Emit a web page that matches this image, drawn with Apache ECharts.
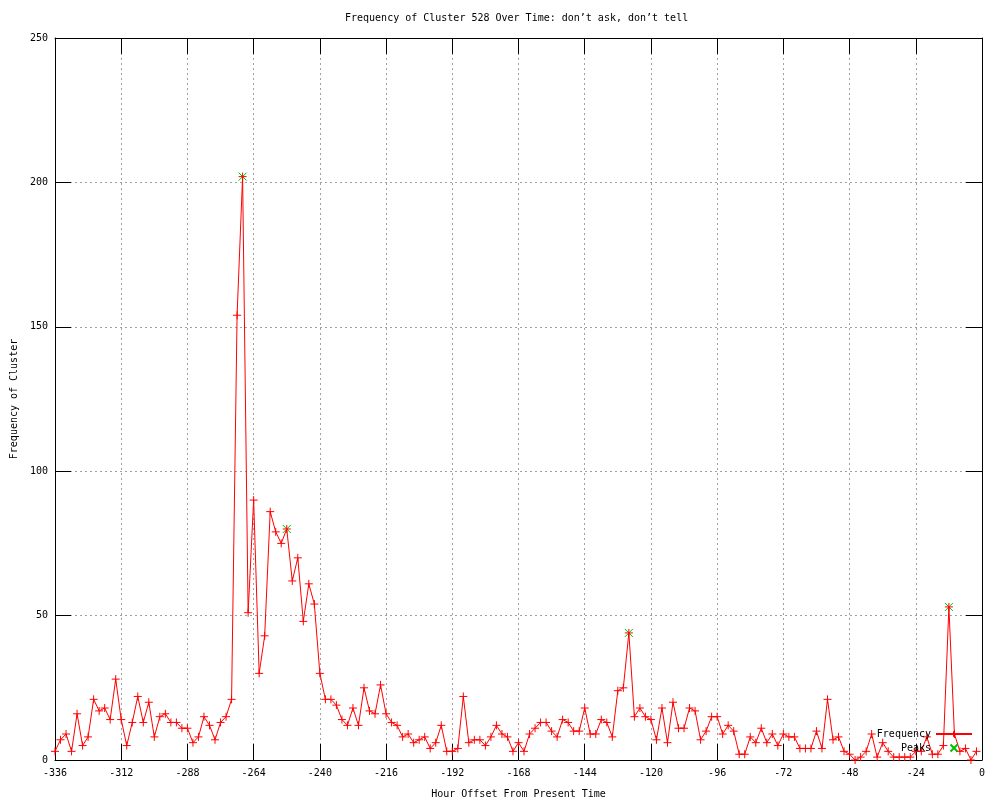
<!DOCTYPE html>
<html>
<head>
<meta charset="utf-8">
<script src="https://cdn.jsdelivr.net/npm/echarts@6/dist/echarts.min.js"></script>
<style>html,body{margin:0;padding:0;background:#fff}#c{width:1000px;height:800px}</style>
</head>
<body>
<div id="c"></div>
<script>
const hours = [-336,-334,-332,-330,-328,-326,-324,-322,-320,-318,-316,-314,-312,-310,-308,-306,-304,-302,
-300,-298,-296,-294,-292,-290,-288,-286,-284,-282,-280,-278,-276,-274,-272,-270,
-268,-266,-264,-262,-260,-258,-256,-254,-252,-250,-248,-246,-244,-242,-240,-238,
-236,-234,-232,-230,-228,-226,-224,-222,-220,-218,-216,-214,-212,-210,-208,-206,
-204,-202,-200,-198,-196,-194,-192,-190,-188,-186,-184,-182,-180,-178,-176,-174,
-172,-170,-168,-166,-164,-162,-160,-158,-156,-154,-152,-150,-148,-146,-144,-142,
-140,-138,-136,-134,-132,-130,-128,-126,-124,-122,-120,-118,-116,-114,-112,-110,
-108,-106,-104,-102,-100,-98,-96,-94,-92,-90,-88,-86,-84,-82,-80,-78,
-76,-74,-72,-70,-68,-66,-64,-62,-60,-58,-56,-54,-52,-50,-48,-46,
-44,-42,-40,-38,-36,-34,-32,-30,-28,-26,-24,-22,-20,-18,-16,-14,
-12,-10,-8,-6,-4,-2];
const frequency = [3,7,9,3,16,5,8,21,17,18,14,28,14,5,13,22,13,20,
8,15,16,13,13,11,11,6,8,15,12,7,13,15,21,154,
202,51,90,30,43,86,79,75,80,62,70,48,61,54,30,21,
21,19,14,12,18,12,25,17,16,26,16,13,12,8,9,6,
7,8,4,6,12,3,3,4,22,6,7,7,5,8,12,9,
8,3,6,3,9,11,13,13,10,8,14,13,10,10,18,9,
9,14,13,8,24,25,44,15,18,15,14,7,18,6,20,11,
11,18,17,7,10,15,15,9,12,10,2,2,8,6,11,6,
9,5,9,8,8,4,4,4,10,4,21,7,8,3,2,0,
1,3,9,1,6,3,1,1,1,1,3,3,8,2,2,5,
53,9,3,4,0,3];
const peakHours = [-268,-252,-128,-12];
const peakValues = [202,80,44,53];

const FONT = 'DejaVu Sans Mono';
const plusPath = 'path://M0,5L10,5M5,0L5,10';
const xPath = 'path://M0,0L10,10M10,0L0,10';
const txt = {color:'#000', fontFamily:FONT, fontSize:10};
const split = {show:true, lineStyle:{color:'#a0a0a0', type:[2,3], width:1}};
const line = {show:true, onZero:false, lineStyle:{color:'#000', width:1}};
const tick = {show:true, inside:true, length:16, lineStyle:{color:'#000', width:1}};

const chart = echarts.init(document.getElementById('c'), null, {renderer:'canvas'});
chart.setOption({
  animation:false,
  backgroundColor:'#fff',
  title:{text:'Frequency of Cluster 528 Over Time: don\u2019t ask, don\u2019t tell', left:345, top:13, padding:0,
    textStyle:{color:'#000', fontFamily:FONT, fontSize:10, fontWeight:'normal'}},
  grid:{left:55, right:18, top:38, bottom:40, containLabel:false, outerBoundsMode:'none'},
  legend:{orient:'vertical', align:'right', right:27, top:729, padding:0, itemGap:4,
    itemWidth:36, itemHeight:7, textStyle:txt, selectedMode:false,
    data:['Frequency','Peaks']},
  xAxis:[
    {type:'value', position:'bottom', min:-336, max:0, interval:24,
     axisLine:line, axisTick:tick, splitLine:split,
     axisLabel:Object.assign({margin:8}, txt),
     name:'Hour Offset From Present Time', nameLocation:'middle', nameGap:29, nameTextStyle:txt},
    {type:'value', position:'top', min:-336, max:0, interval:24,
     axisLine:line, axisTick:tick, splitLine:{show:false}, axisLabel:{show:false}}
  ],
  yAxis:[
    {type:'value', position:'left', min:0, max:250, interval:50,
     axisLine:line, axisTick:tick, splitLine:split,
     axisLabel:Object.assign({margin:7}, txt),
     name:'Frequency of Cluster', nameLocation:'middle', nameGap:36, nameRotate:90, nameTextStyle:txt},
    {type:'value', position:'right', min:0, max:250, interval:50,
     axisLine:line, axisTick:tick, splitLine:{show:false}, axisLabel:{show:false}}
  ],
  series:[
    {name:'Frequency', type:'line', xAxisIndex:0, yAxisIndex:0,
     data:hours.map((h,i)=>[h, frequency[i]]),
     symbol:plusPath, symbolSize:8, showAllSymbol:true,
     lineStyle:{color:'#ff0000', width:1},
     itemStyle:{color:'#ff0000', borderColor:'#ff0000', borderWidth:1},
     emphasis:{disabled:true}},
    {name:'Peaks', type:'scatter', xAxisIndex:0, yAxisIndex:0,
     data:peakHours.map((h,i)=>[h, peakValues[i]]),
     symbol:xPath, symbolSize:8,
     itemStyle:{color:'#00c000', borderColor:'#00c000', borderWidth:1, opacity:1},
     emphasis:{disabled:true}}
  ]
});
</script>
</body>
</html>
